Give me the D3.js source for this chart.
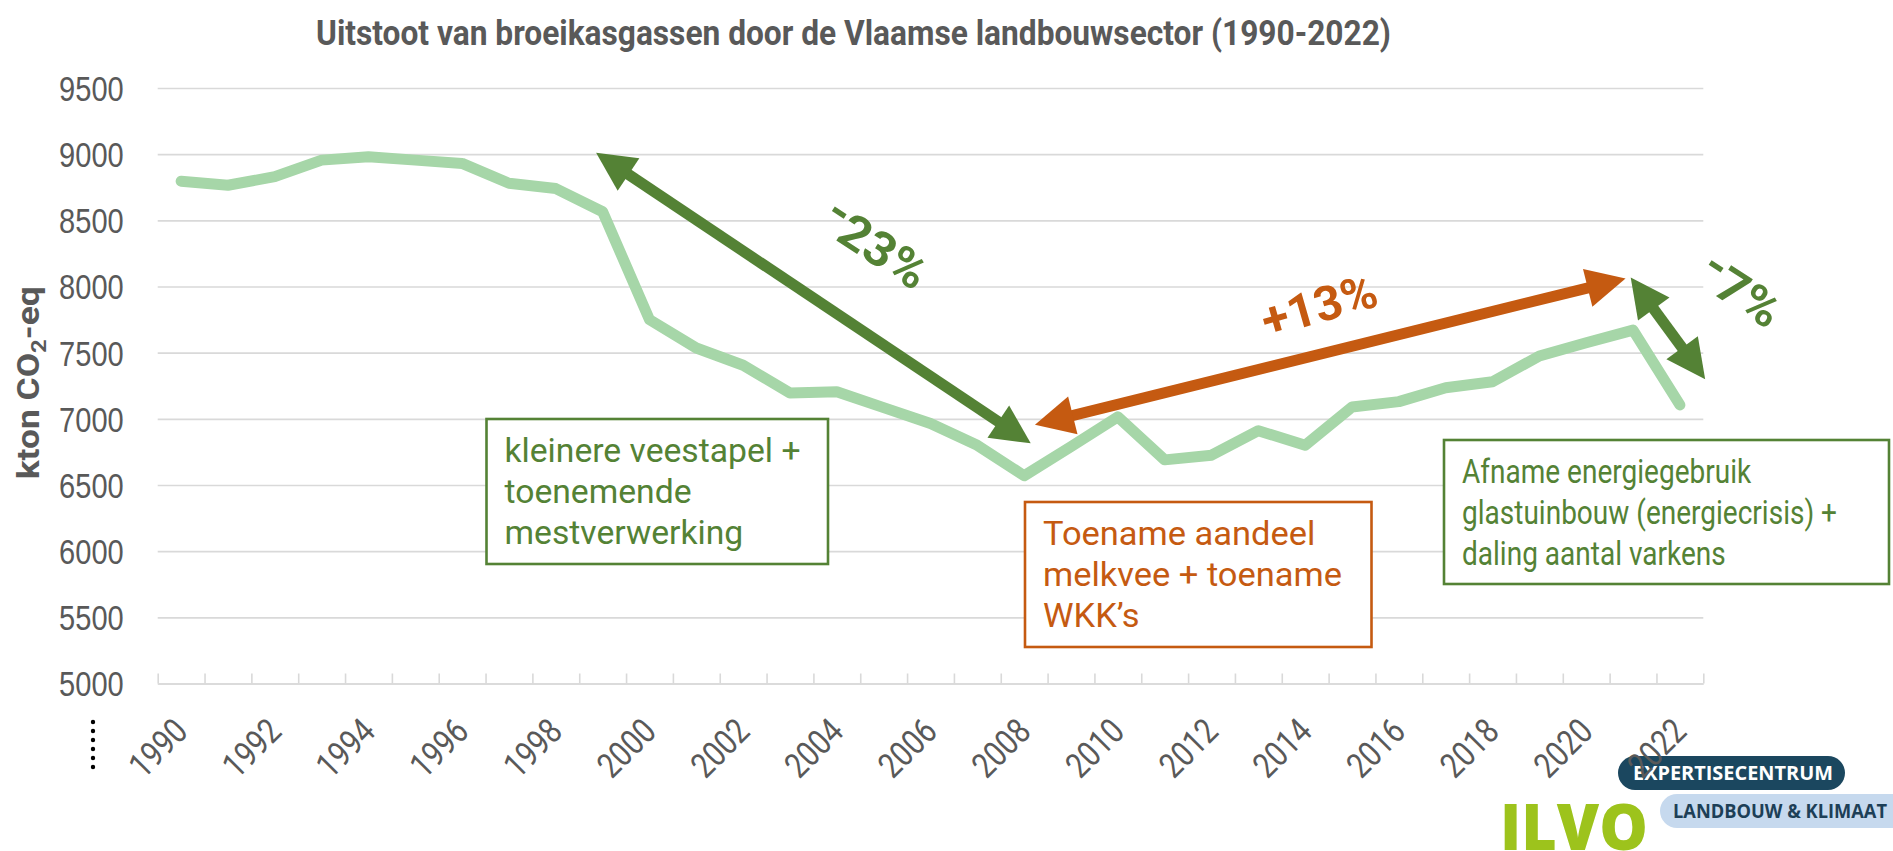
<!DOCTYPE html>
<html>
<head>
<meta charset="utf-8">
<script src="https://cdn.jsdelivr.net/npm/d3@7"></script>
<style>
  html, body { margin: 0; padding: 0; background: #fff; }
  svg { display: block; font-family: Roboto, "Noto Sans", sans-serif; }
</style>
</head>
<body>
<svg id="chart" width="1893" height="851"></svg>
<script>
// data
const years = [1990, 1991, 1992, 1993, 1994, 1995, 1996, 1997, 1998, 1999, 2000,
  2001, 2002, 2003, 2004, 2005, 2006, 2007, 2008, 2009, 2010, 2011,
  2012, 2013, 2014, 2015, 2016, 2017, 2018, 2019, 2020, 2021, 2022];
const emissions = [8795, 8765, 8830, 8955, 8980, 8955, 8930, 8780, 8740, 8565, 7750,
  7535, 7405, 7195, 7205, 7085, 6965, 6800, 6570, 6790, 7015, 6690,
  6725, 6910, 6800, 7090, 7130, 7235, 7280, 7475, 7575, 7670, 7105];
const yTicks = [5000, 5500, 6000, 6500, 7000, 7500, 8000, 8500, 9000, 9500];
const xLabelYears = [1990, 1992, 1994, 1996, 1998, 2000, 2002, 2004, 2006, 2008,
  2010, 2012, 2014, 2016, 2018, 2020, 2022];

const titleText = "Uitstoot van broeikasgassen door de Vlaamse landbouwsector (1990-2022)";
const box1Lines = ["kleinere veestapel +", "toenemende", "mestverwerking"];
const box2Lines = ["Toename aandeel", "melkvee + toename", "WKK\u2019s"];
const box3Lines = ["Afname energiegebruik", "glastuinbouw (energiecrisis) +", "daling aantal varkens"];

// arrows in data units: [year, value] -> [year, value]
const arrowDown = [[1998.86, 9010], [2008.14, 6815]];
const arrowUp = [[2008.23, 6955], [2020.84, 8060]];
const arrowDrop = [[2020.95, 8068], [2022.54, 7300]];

// colours
const grey = "#595959";
const grid = "#d9d9d9";
const green = "#548235";
const orange = "#c55a11";
const lineGreen = "#a6d6a8";

const svg = d3.select("#chart");
const W = 1893, H = 851;
const plotL = 157.7, plotR = 1703.3, plotT = 88, plotB = 683.5;

svg.append("rect").attr("width", W).attr("height", H).attr("fill", "#fff");

const x = d3.scaleLinear().domain([1989.5, 2022.5]).range([plotL, plotR]);
const y = d3.scaleLinear().domain([5000, 9500]).range([plotB, plotT]);

// squeeze text horizontally to mimic the condensed font
function squeeze(sel, k) {
  sel.each(function() {
    const L = this.getComputedTextLength();
    d3.select(this).attr("textLength", L * k).attr("lengthAdjust", "spacingAndGlyphs");
  });
}
function fit(sel, w) {
  sel.attr("textLength", w).attr("lengthAdjust", "spacingAndGlyphs");
}

// gridlines + y labels
const yAxis = svg.append("g")
  .attr("transform", `translate(${plotL},0)`)
  .call(d3.axisLeft(y).tickValues(yTicks).tickSizeInner(-(plotR - plotL)).tickSizeOuter(0).tickPadding(34).tickFormat(d3.format("d")));
yAxis.select(".domain").remove();
yAxis.selectAll(".tick line").attr("stroke", grid).attr("stroke-width", 1.6);
yAxis.selectAll(".tick text")
  .attr("fill", grey)
  .attr("font-size", 35)
  .attr("dy", "0.355em");
squeeze(yAxis.selectAll(".tick text"), 0.83);

// x axis with inner tick marks at the category boundaries
const xAxis = svg.append("g")
  .attr("transform", `translate(0,${plotB})`)
  .call(d3.axisBottom(x).tickValues(d3.range(1989.5, 2023, 1)).tickSizeInner(-10).tickSizeOuter(0).tickFormat(""));
xAxis.select(".domain").attr("stroke", grid).attr("stroke-width", 1.6);
xAxis.selectAll(".tick line").attr("stroke", grid).attr("stroke-width", 1.6);

// the emission line
const line = d3.line()
  .x((d, i) => x(years[i]))
  .y(d => y(d));
svg.append("path")
  .datum(emissions)
  .attr("d", line)
  .attr("fill", "none")
  .attr("stroke", lineGreen)
  .attr("stroke-width", 11)
  .attr("stroke-linejoin", "round")
  .attr("stroke-linecap", "round");

// double arrows
function doubleArrow(pts, color) {
  const x1 = x(pts[0][0]), y1 = y(pts[0][1]), x2 = x(pts[1][0]), y2 = y(pts[1][1]);
  const len = Math.hypot(x2 - x1, y2 - y1);
  const ux = (x2 - x1) / len, uy = (y2 - y1) / len;
  const hl = 39, hw = 19.5;
  const g = svg.append("g");
  g.append("line")
    .attr("x1", x1 + ux * hl * 0.8).attr("y1", y1 + uy * hl * 0.8)
    .attr("x2", x2 - ux * hl * 0.8).attr("y2", y2 - uy * hl * 0.8)
    .attr("stroke", color).attr("stroke-width", 11);
  const head = (tx, ty, dx, dy) => {
    const bx = tx + dx * hl, by = ty + dy * hl;
    return [[tx, ty], [bx - dy * hw, by + dx * hw], [bx + dy * hw, by - dx * hw]];
  };
  [head(x1, y1, ux, uy), head(x2, y2, -ux, -uy)].forEach(p => {
    g.append("path").attr("d", "M" + p.join("L") + "Z").attr("fill", color);
  });
}
doubleArrow(arrowDown, green);
doubleArrow(arrowUp, orange);
doubleArrow(arrowDrop, green);

// percentage labels (sign drawn a bit raised, like in the original)
function pctLabel(sign, rest, cx, cy, angle, color, w) {
  const t = svg.append("text")
    .attr("transform", `translate(${cx},${cy}) rotate(${angle})`)
    .attr("text-anchor", "middle")
    .attr("dy", "0.36em")
    .attr("font-size", 48)
    .attr("font-weight", 700)
    .attr("fill", color);
  if (sign === "-") {
    t.append("tspan").attr("dy", "-0.22em").text("-");
    t.append("tspan").attr("dy", "0.22em").text(rest);
  } else {
    t.append("tspan").text(sign + rest);
  }
  fit(t, w);
}
pctLabel("-", "23%", 866, 260, 33, green, 116);
pctLabel("+", "13%", 1319, 305, -16, orange, 118);
pctLabel("-", "7%", 1731, 306, 33, green, 88);

// annotation boxes
function noteBox(lines, bx, by, bw, bh, color, longest) {
  const g = svg.append("g");
  g.append("rect")
    .attr("x", bx).attr("y", by).attr("width", bw).attr("height", bh)
    .attr("fill", "#fff").attr("stroke", color).attr("stroke-width", 2.6);
  const texts = g.selectAll("text").data(lines).join("text")
    .attr("x", bx + 18)
    .attr("y", (d, i) => by + 43 + i * 41)
    .attr("font-size", 33)
    .attr("fill", color)
    .text(d => d);
  const maxL = d3.max(texts.nodes(), n => n.getComputedTextLength());
  squeeze(texts, longest / maxL);
}
noteBox(box1Lines, 486.5, 419, 341.5, 145, green, 296);
noteBox(box2Lines, 1025, 502, 346.5, 145, orange, 299);
noteBox(box3Lines, 1444, 440, 445, 144, green, 375);

// title
const title = svg.append("text")
  .attr("x", 853.5).attr("y", 45)
  .attr("text-anchor", "middle")
  .attr("font-size", 35)
  .attr("font-weight", 700)
  .attr("fill", grey)
  .text(titleText);
fit(title, 1075);

// y axis title
const yTitle = svg.append("text")
  .attr("transform", `translate(39,${(plotT + plotB) / 2 - 3}) rotate(-90)`)
  .attr("text-anchor", "middle")
  .attr("font-size", 31)
  .attr("font-weight", 700)
  .attr("fill", grey);
yTitle.append("tspan").text("kton CO");
yTitle.append("tspan").attr("font-size", 21).attr("dy", 7).text("2");
yTitle.append("tspan").attr("dy", -7).text("-eq");
fit(yTitle, 193);

// small dotted mark under the y labels
svg.append("line")
  .attr("x1", 93).attr("x2", 93).attr("y1", 722).attr("y2", 768)
  .attr("stroke", "#000").attr("stroke-width", 4.4)
  .attr("stroke-linecap", "round").attr("stroke-dasharray", "0 9");

// logo
const logo = svg.append("g");
logo.append("rect").attr("x", 1618).attr("y", 756).attr("width", 227).attr("height", 34).attr("rx", 17).attr("fill", "#1b475f");
logo.append("rect").attr("x", 1660).attr("y", 794).attr("width", 280).attr("height", 34).attr("rx", 17).attr("fill", "#c6d9ee");
const t1 = logo.append("text").attr("x", 1633).attr("y", 780).attr("font-size", 20).attr("font-weight", 700)
  .attr("font-family", "'Open Sans', Roboto, sans-serif")
  .attr("fill", "#fff").text("EXPERTISECENTRUM");
fit(t1, 200);
const t2 = logo.append("text").attr("x", 1673).attr("y", 818).attr("font-size", 20).attr("font-weight", 700)
  .attr("font-family", "'Open Sans', Roboto, sans-serif")
  .attr("fill", "#1d3f57").text("LANDBOUW & KLIMAAT");
fit(t2, 214);
const t3 = logo.append("text").attr("x", 1500).attr("y", 850).attr("font-size", 64).attr("font-weight", 900)
  .attr("font-family", "'Open Sans', Roboto, sans-serif")
  .attr("fill", "#9dc31c").text("ILVO");
fit(t3, 148);

// x labels (drawn last, they sit over the logo)
const xl = svg.append("g").selectAll("text").data(xLabelYears).join("text")
  .attr("transform", d => `translate(${x(d) + 8.5},${plotB + 50}) rotate(-45)`)
  .attr("text-anchor", "end")
  .attr("font-size", 35)
  .attr("fill", grey)
  .text(d => d);
squeeze(xl, 0.83);
</script>
</body>
</html>
